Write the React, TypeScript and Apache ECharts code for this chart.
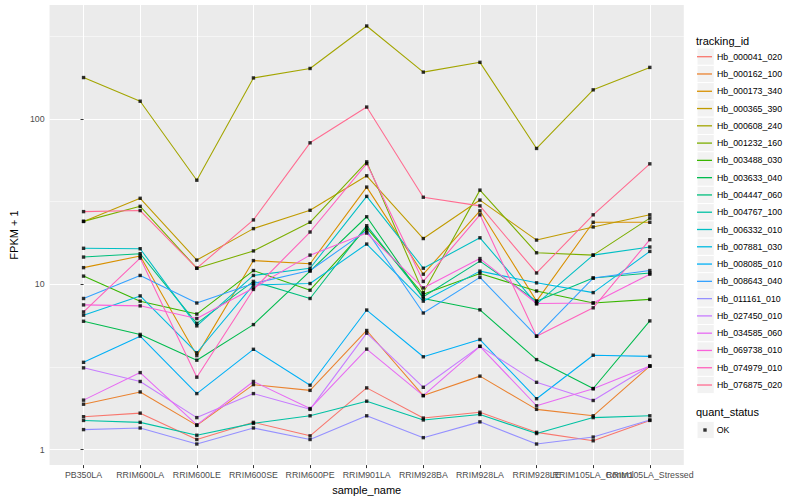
import React, { useEffect, useRef } from "react";
import * as echarts from "echarts";

const categories = [
  "PB350LA", "RRIM600LA", "RRIM600LE", "RRIM600SE", "RRIM600PE", "RRIM901LA",
  "RRIM928BA", "RRIM928LA", "RRIM928LE", "RRIM105LA_Control", "RRIM105LA_Stressed",
];

const trackingIds = [
  "Hb_000041_020", "Hb_000162_100", "Hb_000173_340", "Hb_000365_390", "Hb_000608_240",
  "Hb_001232_160", "Hb_003488_030", "Hb_003633_040", "Hb_004447_060", "Hb_004767_100",
  "Hb_006332_010", "Hb_007881_030", "Hb_008085_010", "Hb_008643_040", "Hb_011161_010",
  "Hb_027450_010", "Hb_034585_060", "Hb_069738_010", "Hb_074979_010", "Hb_076875_020",
];

const colors = [
  "#F8766D", "#EA8331", "#D89000", "#C09B00", "#A3A500", "#7CAE00", "#39B600", "#00BB4E",
  "#00BF7D", "#00C1A3", "#00BFC4", "#00BAE0", "#00B0F6", "#35A2FF", "#9590FF", "#C77CFF",
  "#E76BF3", "#FA62DB", "#FF62BC", "#FF6C91",
];

// FPKM + 1 per sample (order of categories)
const hb_000041_020 = [1.58, 1.66, 1.15, 1.46, 1.21, 2.36, 1.55, 1.68, 1.27, 1.13, 1.5];
const hb_000162_100 = [1.88, 2.23, 1.4, 2.47, 2.28, 5.25, 2.12, 2.78, 1.75, 1.6, 3.2];
const hb_000173_340 = [12.6, 14.8, 3.7, 13.9, 13.3, 38.7, 11.5, 27.8, 7.9, 23.7, 23.7];
const hb_000365_390 = [24.0, 33.1, 14.0, 21.7, 28.0, 45.3, 18.9, 32.3, 18.5, 22.2, 26.3];
const hb_000608_240 = [178, 128, 42.6, 177, 202, 365, 192, 220, 66.3, 150, 205];
const hb_001232_160 = [24.0, 29.6, 12.5, 15.9, 23.7, 55.0, 8.9, 37.1, 15.5, 15.0, 25.1];
const hb_003488_030 = [11.2, 7.9, 6.6, 12.1, 9.2, 21.9, 8.7, 11.6, 9.1, 7.7, 8.1];
const hb_003633_040 = [5.97, 4.97, 3.47, 5.7, 12.0, 25.6, 8.2, 7.0, 3.5, 2.34, 6.0];
const hb_004447_060 = [14.6, 15.3, 5.8, 10.4, 8.2, 22.6, 8.4, 13.8, 7.9, 10.9, 11.7];
const hb_004767_100 = [1.5, 1.46, 1.22, 1.44, 1.6, 1.96, 1.51, 1.63, 1.25, 1.56, 1.6];
const hb_006332_010 = [16.5, 16.4, 5.6, 11.3, 12.5, 34.0, 12.5, 19.1, 7.6, 15.0, 16.8];
const hb_007881_030 = [6.5, 8.5, 3.85, 9.9, 10.1, 17.5, 7.9, 12.0, 10.2, 8.9, 15.8];
const hb_008085_010 = [3.37, 4.85, 2.18, 4.04, 2.45, 6.98, 3.64, 4.63, 2.03, 3.72, 3.66];
const hb_008643_040 = [8.2, 11.3, 7.7, 10.1, 12.1, 21.1, 6.7, 11.0, 4.85, 10.9, 12.1];
const hb_011161_010 = [1.32, 1.35, 1.08, 1.35, 1.15, 1.6, 1.18, 1.47, 1.08, 1.19, 1.51];
const hb_027450_010 = [3.12, 2.58, 1.56, 2.18, 1.75, 5.06, 2.38, 4.21, 2.55, 1.98, 3.2];
const hb_034585_060 = [1.99, 2.92, 1.41, 2.58, 1.77, 4.05, 2.12, 4.21, 1.84, 2.33, 3.2];
const hb_069738_010 = [7.5, 7.4, 6.2, 9.5, 15.0, 20.4, 9.5, 14.3, 7.65, 7.7, 11.5];
const hb_074979_010 = [6.8, 14.4, 2.74, 9.3, 20.7, 53.7, 10.4, 26.3, 4.85, 7.2, 18.6];
const hb_076875_020 = [27.5, 27.9, 12.5, 24.5, 71.7, 118, 33.6, 29.8, 11.7, 26.3, 53.5];

const seriesValues = [
  hb_000041_020, hb_000162_100, hb_000173_340, hb_000365_390, hb_000608_240,
  hb_001232_160, hb_003488_030, hb_003633_040, hb_004447_060, hb_004767_100,
  hb_006332_010, hb_007881_030, hb_008085_010, hb_008643_040, hb_011161_010,
  hb_027450_010, hb_034585_060, hb_069738_010, hb_074979_010, hb_076875_020,
];

const quantStatus = ["OK"];
const yMajorTicks = [1, 10, 100];
const yMinorBreaks = [3.1623, 31.623, 316.23];

const FONT = "'Liberation Sans', Arial, Helvetica, sans-serif";
const Y_MIN = 0.805;
const Y_MAX = 489;

export default function App() {
  const ref = useRef<HTMLDivElement>(null);

  useEffect(() => {
    document.body.style.margin = "0";
    if (!ref.current) return;
    const chart = echarts.init(ref.current, undefined, { renderer: "svg" });
    const catIdx = categories.map((_, i) => i);
    const evenLabels = catIdx.filter((i) => i % 2 === 0);
    const oddLabels = catIdx.filter((i) => i % 2 === 1);

    const KEY = 17.28;
    const legTop = 48.06;
    const keyBoxes = trackingIds.map((_, i) => ({
      type: "rect",
      shape: { x: 697, y: legTop + i * KEY, width: KEY, height: KEY },
      style: { fill: "#F2F2F2", stroke: "#FFFFFF", lineWidth: 1 },
      z: 0,
    }));
    const okTop = 421.36;

    const lineSeries = seriesValues.map((vals, i) => ({
      type: "line",
      name: trackingIds[i],
      data: vals.map((v, j) => [j, v]),
      xAxisIndex: 0,
      yAxisIndex: 0,
      showSymbol: false,
      symbol: "none",
      lineStyle: { color: colors[i], width: 1.07 },
      itemStyle: { color: colors[i] },
      z: 2,
      silent: true,
      emphasis: { disabled: true },
    }));

    const pointSeries = {
      type: "scatter",
      name: quantStatus[0],
      data: seriesValues.flatMap((vals) => vals.map((v, j) => [j, v])),
      xAxisIndex: 0,
      yAxisIndex: 0,
      symbol: "rect",
      symbolSize: 3.4,
      itemStyle: { color: "#000000" },
      z: 3,
      silent: true,
      emphasis: { disabled: true },
    };

    const xLabelStyle = {
      formatter: (v: number) => categories[Math.round(v)] ?? "",
      fontSize: 8.8,
      color: "#4D4D4D",
      margin: 5,
      fontFamily: FONT,
      showMinLabel: true,
      showMaxLabel: true,
      hideOverlap: false,
    };

    const option: any = {
      animation: false,
      backgroundColor: "#FFFFFF",
      textStyle: { fontFamily: FONT },
      grid: {
        left: 40, right: 116.2, top: 5, bottom: 31,
        show: true, backgroundColor: "#EBEBEB", borderWidth: 0,
      },
      xAxis: [
        {
          type: "value",
          min: -0.6,
          max: 10.6,
          position: "bottom",
          name: "sample_name",
          nameLocation: "middle",
          nameGap: 15,
          nameTextStyle: { fontSize: 11, color: "#000000", fontFamily: FONT },
          axisLine: { show: false },
          axisTick: { show: true, length: 3, customValues: catIdx, lineStyle: { color: "#333333", width: 1 } },
          axisLabel: { ...xLabelStyle, customValues: evenLabels },
          splitLine: { show: true, lineStyle: { color: "#FFFFFF", width: 1.07 } },
        },
        {
          type: "value",
          min: -0.6,
          max: 10.6,
          position: "bottom",
          axisLine: { show: false },
          axisTick: { show: false, customValues: oddLabels },
          axisLabel: { ...xLabelStyle, customValues: oddLabels },
          splitLine: { show: false },
        },
      ],
      yAxis: [
        {
          type: "log",
          logBase: 10,
          min: Y_MIN,
          max: Y_MAX,
          name: "FPKM + 1",
          nameLocation: "middle",
          nameGap: 22,
          nameTextStyle: { fontSize: 11, color: "#000000", fontFamily: FONT },
          axisLine: { show: false },
          axisTick: { show: true, length: 3, customValues: yMajorTicks, lineStyle: { color: "#333333", width: 1 } },
          axisLabel: {
            customValues: yMajorTicks,
            formatter: (v: number) => String(Math.round(v)),
            fontSize: 8.8,
            color: "#4D4D4D",
            margin: 5,
            fontFamily: FONT,
            showMinLabel: true,
            showMaxLabel: true,
          },
          splitLine: { show: true, lineStyle: { color: "#FFFFFF", width: 1.07 } },
          minorSplitLine: { show: false },
        },
        {
          type: "log",
          logBase: 10,
          min: Y_MIN,
          max: Y_MAX,
          position: "left",
          axisLine: { show: false },
          axisTick: { show: false, customValues: yMinorBreaks },
          axisLabel: { show: false, customValues: yMinorBreaks },
          splitLine: { show: true, lineStyle: { color: "#FFFFFF", width: 0.53 } },
        },
      ],
      legend: [
        {
          orient: "vertical",
          left: 697,
          top: legTop,
          padding: 0,
          itemGap: 0,
          itemWidth: 15,
          itemHeight: 1.3,
          icon: "rect",
          selectedMode: false,
          textStyle: { fontSize: 8.8, color: "#000000", lineHeight: KEY, fontFamily: FONT },
          data: trackingIds.map((n, i) => ({ name: n, itemStyle: { color: colors[i] } })),
        },
        {
          orient: "vertical",
          left: 703.3,
          top: okTop,
          padding: 0,
          itemGap: 0,
          itemWidth: 3.4,
          itemHeight: 3.4,
          icon: "rect",
          selectedMode: false,
          textStyle: { fontSize: 8.8, color: "#000000", lineHeight: KEY, padding: [0, 0, 0, 5], fontFamily: FONT },
          data: quantStatus.map((n) => ({ name: n, itemStyle: { color: "#000000" } })),
        },
      ],
      graphic: [
        ...keyBoxes,
        {
          type: "rect",
          shape: { x: 697, y: okTop, width: KEY, height: KEY },
          style: { fill: "#F2F2F2", stroke: "#FFFFFF", lineWidth: 1 },
          z: 0,
        },
        {
          type: "text",
          x: 696,
          y: 41,
          style: { text: "tracking_id", fontSize: 11, fill: "#000000", fontFamily: FONT, verticalAlign: "middle", align: "left" },
          z: 1,
        },
        {
          type: "text",
          x: 696,
          y: 412.3,
          style: { text: "quant_status", fontSize: 11, fill: "#000000", fontFamily: FONT, verticalAlign: "middle", align: "left" },
          z: 1,
        },
      ],
      series: [...lineSeries, pointSeries],
    };

    chart.setOption(option);
    return () => chart.dispose();
  }, []);

  return <div ref={ref} style={{ width: 800, height: 500 }} />;
}
